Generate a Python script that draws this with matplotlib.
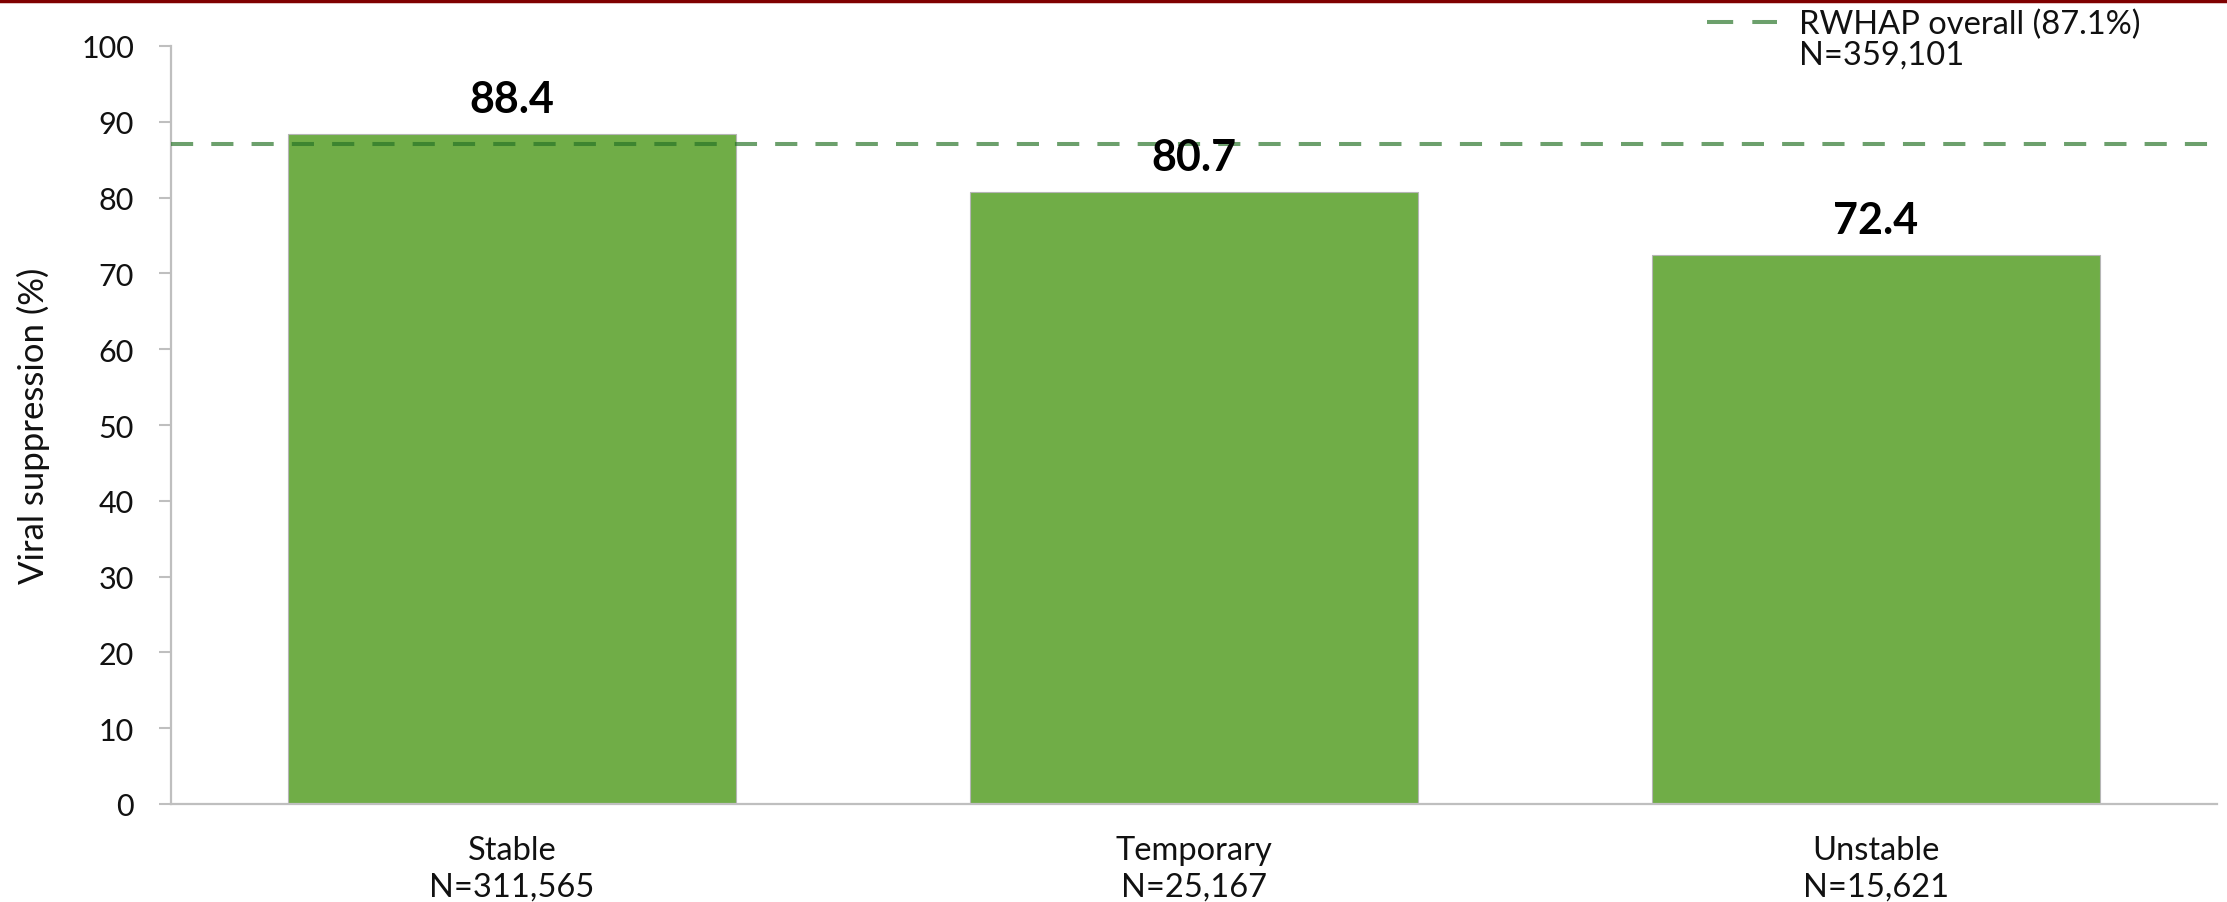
import matplotlib
matplotlib.use("Agg")
import matplotlib.pyplot as plt
from matplotlib.lines import Line2D

plt.rcParams['font.family'] = ['Lato', 'DejaVu Sans']

categories = ["Stable", "Temporary", "Unstable"]
counts = ["N=311,565", "N=25,167", "N=15,621"]
values = [88.4, 80.7, 72.4]
overall = 87.1
overall_label = "RWHAP overall (87.1%)"
overall_n = "N=359,101"
yticks = [0, 10, 20, 30, 40, 50, 60, 70, 80, 90, 100]

LINE_COLOR = '#267326'
TEXT_COLOR = '#111111'

fig = plt.figure(figsize=(22.27, 9.03), dpi=100)
ax = fig.add_axes([171/2227, 1-805/903, (2217-171)/2227, (805-47)/903])

x = list(range(len(categories)))
ax.bar(x, values, width=0.656, color='#70AD47', edgecolor='#B5B5B5', linewidth=0.8, zorder=2)

for xi, v in zip(x, values):
    ax.annotate(f"{v:.1f}", (xi, v), xytext=(0, 16), textcoords='offset points',
                ha='center', va='baseline', fontsize=31, fontweight='bold', color='black', zorder=4)

ax.axhline(overall, color=LINE_COLOR, alpha=0.68, linewidth=2.9,
           linestyle=(0, (5.5, 4.5)), zorder=3)

ax.set_xlim(-0.5, 2.5)
ax.set_ylim(0, 100)
ax.set_yticks(yticks)
ax.set_yticklabels([str(t) for t in yticks])
ax.set_xticks(x)
ax.set_xticklabels([f"{c}\n{n}" for c, n in zip(categories, counts)], linespacing=1.3)

for side in ['top', 'right']:
    ax.spines[side].set_visible(False)
for side in ['left', 'bottom']:
    ax.spines[side].set_color('#BFBFBF')
    ax.spines[side].set_linewidth(1.6)

ax.tick_params(axis='y', length=8.6, width=1.5, color='#BFBFBF', pad=18, labelsize=22, labelcolor=TEXT_COLOR)
ax.tick_params(axis='x', length=0, pad=22, labelsize=23.5, labelcolor=TEXT_COLOR)
ax.set_ylabel("Viral suppression (%)", fontsize=25, color=TEXT_COLOR)
ax.yaxis.set_label_coords(-0.059, 0.5)

handles = [Line2D([], [], color=LINE_COLOR, alpha=0.68, linewidth=2.9, linestyle=(0, (6.5, 4.75))),
           Line2D([], [], alpha=0)]
fig.legend(handles, [overall_label, overall_n], loc='upper left',
           bbox_to_anchor=(1707/2227, 1-10/903), frameon=False, fontsize=23.5,
           handlelength=2.15, handletextpad=0.67, borderpad=0, borderaxespad=0,
           labelspacing=0.0, labelcolor=TEXT_COLOR)

fig.add_artist(Line2D([0, 1], [1-1.5/903, 1-1.5/903], transform=fig.transFigure,
                      color='#7F0000', linewidth=2.5))

fig.savefig("out.png", dpi=100)
